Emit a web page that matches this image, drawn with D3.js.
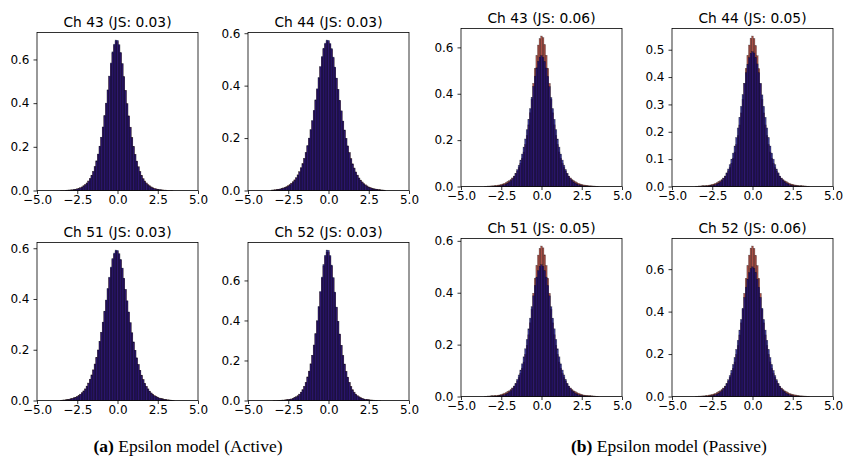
<!DOCTYPE html>
<html>
<head>
<meta charset="utf-8">
<script src="https://cdn.jsdelivr.net/npm/d3@7"></script>
<style>
  body { margin: 0; background: #fff; }
  svg { display: block; font-family: "DejaVu Sans", sans-serif; }
</style>
</head>
<body>
<svg id="chart" width="843" height="468"></svg>
<script>
// bin centres of the histograms (bin width 0.1)
var binCenters = d3.range(-35, 36).map(i => i / 10)
var xTicks = [-5, -2.5, 0, 2.5, 5]

var titles = ["Ch 43 (JS: 0.03)", "Ch 44 (JS: 0.03)", "Ch 51 (JS: 0.03)", "Ch 52 (JS: 0.03)",
              "Ch 43 (JS: 0.06)", "Ch 44 (JS: 0.05)", "Ch 51 (JS: 0.05)", "Ch 52 (JS: 0.06)"]
var yTicks = [[0, 0.2, 0.4, 0.6], [0, 0.2, 0.4, 0.6], [0, 0.2, 0.4, 0.6], [0, 0.2, 0.4, 0.6],
              [0, 0.2, 0.4, 0.6], [0, 0.1, 0.2, 0.3, 0.4, 0.5], [0, 0.2, 0.4, 0.6], [0, 0.2, 0.4, 0.6]]
var captions = [["(a)", " Epsilon model (Active)"], ["(b)", " Epsilon model (Passive)"]]

// (a) Active
var redA43 = [
0.001, 0.001, 0.001, 0.001, 0.002, 0.002, 0.003, 0.003, 0.004, 0.006,
0.008, 0.010, 0.013, 0.017, 0.022, 0.028, 0.035, 0.044, 0.055, 0.070,
0.087, 0.109, 0.135, 0.166, 0.202, 0.243, 0.290, 0.342, 0.398, 0.459,
0.521, 0.580, 0.630, 0.664, 0.682, 0.682, 0.664, 0.630, 0.580, 0.521,
0.459, 0.398, 0.342, 0.290, 0.243, 0.202, 0.166, 0.135, 0.109, 0.087,
0.070, 0.055, 0.044, 0.035, 0.028, 0.022, 0.017, 0.013, 0.010, 0.008,
0.006, 0.004, 0.003, 0.003, 0.002, 0.002, 0.001, 0.001, 0.001, 0.001,
0]
var blueA43 = [
0, 0, 0, 0.001, 0.001, 0.002, 0.002, 0.003, 0.004, 0.005,
0.007, 0.009, 0.012, 0.015, 0.020, 0.026, 0.033, 0.042, 0.054, 0.069,
0.087, 0.110, 0.136, 0.167, 0.203, 0.244, 0.291, 0.343, 0.400, 0.461,
0.524, 0.584, 0.635, 0.670, 0.689, 0.688, 0.668, 0.632, 0.581, 0.521,
0.458, 0.397, 0.341, 0.289, 0.242, 0.201, 0.165, 0.134, 0.108, 0.086,
0.068, 0.053, 0.041, 0.032, 0.025, 0.019, 0.015, 0.011, 0.008, 0.006,
0.005, 0.004, 0.003, 0.002, 0.001, 0.001, 0.001, 0, 0, 0,
0]
var redA44 = [
0.002, 0.002, 0.003, 0.004, 0.005, 0.006, 0.008, 0.010, 0.012, 0.015,
0.019, 0.023, 0.028, 0.034, 0.041, 0.049, 0.060, 0.072, 0.087, 0.103,
0.122, 0.145, 0.170, 0.199, 0.231, 0.265, 0.304, 0.344, 0.386, 0.429,
0.471, 0.508, 0.540, 0.558, 0.568, 0.568, 0.558, 0.538, 0.506, 0.469,
0.428, 0.385, 0.343, 0.303, 0.264, 0.230, 0.198, 0.170, 0.145, 0.122,
0.102, 0.086, 0.071, 0.059, 0.048, 0.040, 0.033, 0.027, 0.022, 0.018,
0.014, 0.012, 0.009, 0.007, 0.006, 0.005, 0.004, 0.003, 0.002, 0.002,
0.001]
var blueA44 = [
0.001, 0.002, 0.002, 0.003, 0.004, 0.005, 0.007, 0.009, 0.011, 0.013,
0.017, 0.021, 0.026, 0.032, 0.039, 0.048, 0.059, 0.071, 0.086, 0.102,
0.122, 0.145, 0.171, 0.200, 0.232, 0.267, 0.306, 0.346, 0.388, 0.431,
0.473, 0.511, 0.543, 0.562, 0.574, 0.573, 0.561, 0.541, 0.509, 0.471,
0.429, 0.386, 0.344, 0.304, 0.265, 0.231, 0.199, 0.170, 0.144, 0.121,
0.101, 0.085, 0.070, 0.058, 0.047, 0.038, 0.031, 0.025, 0.020, 0.016,
0.012, 0.010, 0.008, 0.006, 0.005, 0.004, 0.003, 0.002, 0.002, 0.001,
0.001]
var redA51 = [
0.001, 0.002, 0.002, 0.003, 0.004, 0.005, 0.007, 0.009, 0.011, 0.013,
0.016, 0.020, 0.025, 0.031, 0.038, 0.046, 0.057, 0.069, 0.084, 0.101,
0.121, 0.144, 0.170, 0.199, 0.232, 0.268, 0.308, 0.350, 0.394, 0.439,
0.483, 0.522, 0.555, 0.576, 0.588, 0.588, 0.576, 0.554, 0.520, 0.481,
0.437, 0.392, 0.348, 0.306, 0.266, 0.230, 0.198, 0.168, 0.142, 0.119,
0.100, 0.083, 0.068, 0.056, 0.046, 0.037, 0.030, 0.025, 0.020, 0.016,
0.013, 0.010, 0.008, 0.007, 0.005, 0.004, 0.003, 0.002, 0.002, 0.001,
0.001]
var blueA51 = [
0.001, 0.001, 0.002, 0.002, 0.003, 0.004, 0.006, 0.008, 0.010, 0.012,
0.015, 0.019, 0.024, 0.030, 0.037, 0.045, 0.056, 0.068, 0.083, 0.100,
0.120, 0.143, 0.169, 0.199, 0.233, 0.269, 0.309, 0.352, 0.396, 0.442,
0.486, 0.526, 0.559, 0.581, 0.593, 0.592, 0.579, 0.556, 0.522, 0.482,
0.438, 0.393, 0.349, 0.307, 0.267, 0.231, 0.198, 0.168, 0.142, 0.119,
0.099, 0.082, 0.067, 0.055, 0.045, 0.036, 0.029, 0.023, 0.018, 0.015,
0.012, 0.009, 0.007, 0.006, 0.004, 0.003, 0.002, 0.002, 0.001, 0.001,
0]
var redA52 = [
0, 0.001, 0.001, 0.001, 0.001, 0.001, 0.002, 0.002, 0.003, 0.004,
0.005, 0.006, 0.008, 0.011, 0.015, 0.019, 0.024, 0.032, 0.042, 0.054,
0.071, 0.091, 0.118, 0.147, 0.183, 0.226, 0.277, 0.333, 0.397, 0.467,
0.541, 0.612, 0.673, 0.719, 0.742, 0.742, 0.719, 0.672, 0.611, 0.539,
0.465, 0.395, 0.332, 0.276, 0.225, 0.182, 0.146, 0.117, 0.091, 0.071,
0.054, 0.042, 0.032, 0.024, 0.019, 0.015, 0.011, 0.008, 0.006, 0.005,
0.004, 0.003, 0.002, 0.002, 0.001, 0.001, 0.001, 0.001, 0, 0,
0]
var blueA52 = [
0, 0, 0, 0, 0.001, 0.001, 0.001, 0.002, 0.002, 0.003,
0.004, 0.005, 0.007, 0.010, 0.014, 0.018, 0.023, 0.031, 0.041, 0.053,
0.070, 0.090, 0.117, 0.146, 0.183, 0.226, 0.277, 0.334, 0.399, 0.470,
0.545, 0.617, 0.679, 0.726, 0.752, 0.751, 0.725, 0.677, 0.615, 0.542,
0.467, 0.396, 0.332, 0.276, 0.225, 0.182, 0.145, 0.116, 0.090, 0.069,
0.052, 0.040, 0.030, 0.023, 0.017, 0.013, 0.010, 0.007, 0.005, 0.004,
0.003, 0.002, 0.002, 0.001, 0.001, 0.001, 0, 0, 0, 0,
0]

// (b) Passive
var redB43 = [
0.001, 0.001, 0.002, 0.002, 0.003, 0.003, 0.004, 0.005, 0.006, 0.007,
0.009, 0.011, 0.014, 0.017, 0.021, 0.025, 0.030, 0.037, 0.045, 0.055,
0.067, 0.082, 0.100, 0.122, 0.149, 0.181, 0.220, 0.266, 0.318, 0.375,
0.445, 0.510, 0.565, 0.610, 0.638, 0.649, 0.642, 0.612, 0.566, 0.510,
0.445, 0.375, 0.318, 0.266, 0.220, 0.181, 0.149, 0.122, 0.100, 0.082,
0.067, 0.055, 0.045, 0.037, 0.030, 0.025, 0.021, 0.017, 0.014, 0.011,
0.009, 0.007, 0.006, 0.005, 0.004, 0.003, 0.003, 0.002, 0.002, 0.001,
0.001]
var blueB43 = [
0, 0, 0, 0, 0, 0.001, 0.001, 0.002, 0.002, 0.003,
0.004, 0.006, 0.008, 0.011, 0.015, 0.020, 0.026, 0.034, 0.044, 0.057,
0.073, 0.092, 0.114, 0.140, 0.170, 0.205, 0.245, 0.290, 0.336, 0.385,
0.432, 0.476, 0.512, 0.540, 0.558, 0.565, 0.557, 0.539, 0.511, 0.475,
0.431, 0.384, 0.336, 0.290, 0.245, 0.205, 0.170, 0.140, 0.114, 0.092,
0.073, 0.057, 0.044, 0.034, 0.026, 0.020, 0.015, 0.011, 0.008, 0.006,
0.004, 0.003, 0.002, 0.002, 0.001, 0.001, 0, 0, 0, 0,
0]
var redB44 = [
0.001, 0.001, 0.002, 0.002, 0.003, 0.003, 0.003, 0.004, 0.005, 0.006,
0.008, 0.009, 0.012, 0.014, 0.018, 0.021, 0.025, 0.031, 0.038, 0.047,
0.057, 0.069, 0.085, 0.103, 0.126, 0.153, 0.186, 0.225, 0.269, 0.318,
0.377, 0.432, 0.479, 0.517, 0.542, 0.550, 0.541, 0.515, 0.478, 0.431,
0.376, 0.318, 0.269, 0.225, 0.186, 0.153, 0.126, 0.103, 0.085, 0.069,
0.057, 0.047, 0.038, 0.031, 0.025, 0.021, 0.018, 0.014, 0.012, 0.009,
0.008, 0.006, 0.005, 0.004, 0.003, 0.003, 0.003, 0.002, 0.002, 0.001,
0.001]
var blueB44 = [
0, 0, 0, 0, 0, 0.001, 0.001, 0.002, 0.002, 0.003,
0.003, 0.005, 0.007, 0.010, 0.013, 0.017, 0.023, 0.030, 0.038, 0.050,
0.064, 0.080, 0.100, 0.122, 0.148, 0.179, 0.214, 0.253, 0.293, 0.336,
0.377, 0.416, 0.447, 0.471, 0.487, 0.493, 0.488, 0.472, 0.448, 0.416,
0.377, 0.335, 0.293, 0.253, 0.214, 0.179, 0.148, 0.122, 0.100, 0.080,
0.064, 0.050, 0.038, 0.030, 0.023, 0.017, 0.013, 0.010, 0.007, 0.005,
0.003, 0.003, 0.002, 0.002, 0.001, 0.001, 0, 0, 0, 0,
0]
var redB51 = [
0.001, 0.001, 0.002, 0.002, 0.003, 0.003, 0.004, 0.004, 0.005, 0.006,
0.008, 0.010, 0.013, 0.015, 0.019, 0.022, 0.027, 0.033, 0.040, 0.049,
0.060, 0.073, 0.089, 0.109, 0.133, 0.162, 0.197, 0.238, 0.284, 0.335,
0.398, 0.456, 0.505, 0.545, 0.571, 0.580, 0.573, 0.546, 0.505, 0.456,
0.398, 0.335, 0.284, 0.238, 0.197, 0.162, 0.133, 0.109, 0.089, 0.073,
0.060, 0.049, 0.040, 0.033, 0.027, 0.022, 0.019, 0.015, 0.013, 0.010,
0.008, 0.006, 0.005, 0.004, 0.004, 0.003, 0.003, 0.002, 0.002, 0.001,
0.001]
var blueB51 = [
0, 0, 0, 0, 0, 0.001, 0.001, 0.002, 0.002, 0.003,
0.004, 0.005, 0.007, 0.010, 0.013, 0.018, 0.023, 0.031, 0.040, 0.051,
0.066, 0.083, 0.102, 0.126, 0.153, 0.184, 0.220, 0.261, 0.302, 0.346,
0.388, 0.428, 0.460, 0.485, 0.502, 0.508, 0.502, 0.485, 0.460, 0.428,
0.388, 0.346, 0.302, 0.261, 0.220, 0.184, 0.153, 0.126, 0.102, 0.083,
0.066, 0.051, 0.040, 0.031, 0.023, 0.018, 0.013, 0.010, 0.007, 0.005,
0.004, 0.003, 0.002, 0.002, 0.001, 0.001, 0, 0, 0, 0,
0]
var redB52 = [
0.001, 0.001, 0.002, 0.002, 0.003, 0.003, 0.004, 0.005, 0.007, 0.008,
0.010, 0.012, 0.015, 0.019, 0.023, 0.027, 0.033, 0.040, 0.049, 0.060,
0.073, 0.090, 0.109, 0.133, 0.163, 0.198, 0.240, 0.290, 0.347, 0.410,
0.486, 0.557, 0.617, 0.666, 0.699, 0.709, 0.698, 0.665, 0.617, 0.557,
0.486, 0.410, 0.347, 0.290, 0.240, 0.198, 0.163, 0.133, 0.109, 0.090,
0.073, 0.060, 0.049, 0.040, 0.033, 0.027, 0.023, 0.019, 0.015, 0.012,
0.010, 0.008, 0.007, 0.005, 0.004, 0.003, 0.003, 0.002, 0.002, 0.001,
0.001]
var blueB52 = [
0, 0, 0, 0, 0, 0.001, 0.001, 0.002, 0.002, 0.003,
0.004, 0.006, 0.009, 0.012, 0.016, 0.022, 0.028, 0.037, 0.048, 0.062,
0.079, 0.099, 0.123, 0.151, 0.184, 0.222, 0.265, 0.313, 0.363, 0.416,
0.467, 0.515, 0.553, 0.584, 0.603, 0.611, 0.604, 0.585, 0.553, 0.515,
0.467, 0.416, 0.363, 0.313, 0.265, 0.222, 0.184, 0.151, 0.123, 0.099,
0.079, 0.062, 0.048, 0.037, 0.028, 0.022, 0.016, 0.012, 0.009, 0.006,
0.004, 0.003, 0.002, 0.002, 0.001, 0.001, 0, 0, 0, 0,
0]

var reds = [redA43, redA44, redA51, redA52, redB43, redB44, redB51, redB52]
var blues = [blueA43, blueA44, blueA51, blueA52, blueB43, blueB44, blueB51, blueB52]

// plot area positions (left, top) of each subplot
var boxes = [[37, 32.5], [248, 32.5], [37, 242.5], [248, 242.5],
             [461, 28.5], [672, 28.5], [461, 238.5], [672, 238.5]]
var plotW = 161, plotH = 158

var svg = d3.select("#chart")

boxes.forEach(function(b, k) {
    var left = b[0], top = b[1]
    var ymax = 1.05 * d3.max(reds[k].concat(blues[k]))

    var xScale = d3.scaleLinear().domain([-5, 5]).range([left, left + plotW])
    var yScale = d3.scaleLinear().domain([0, ymax]).range([top + plotH, top])

    var g = svg.append("g")

    //red first, blue drawn over it
    var series = [
        {vals: reds[k], fill: "rgb(140,22,10)", op: 0.75},
        {vals: blues[k], fill: "rgb(15,10,120)", op: 0.8}
    ]
    series.forEach(function(s) {
        g.append("g").selectAll("rect")
            .data(binCenters.map((c, i) => ({c: c, v: s.vals[i]})).filter(d => d.v > 0))
            .enter()
            .append("rect")
            .attr("x", d => xScale(d.c - 0.05))
            .attr("width", d => xScale(d.c + 0.05) - xScale(d.c - 0.05))
            .attr("y", d => yScale(d.v))
            .attr("height", d => yScale(0) - yScale(d.v))
            .attr("fill", s.fill)
            .attr("fill-opacity", s.op)
            .attr("stroke", "#000")
            .attr("stroke-opacity", 0.45)
            .attr("stroke-width", 0.5)
    })

    var xAxis = g.append("g")
        .attr("transform", `translate(0,${top + plotH})`)
        .call(d3.axisBottom(xScale).tickValues(xTicks).tickFormat(d3.format(".1f")).tickSize(3.5).tickPadding(1.5))
    var yAxis = g.append("g")
        .attr("transform", `translate(${left},0)`)
        .call(d3.axisLeft(yScale).tickValues(yTicks[k]).tickFormat(d3.format(".1f")).tickSize(3.5).tickPadding(4))

    ;[xAxis, yAxis].forEach(function(a) {
        a.select(".domain").remove()
        a.selectAll("line").attr("stroke", "#000").attr("stroke-width", 0.8)
        a.selectAll("text").attr("fill", "#000").style("font-size", "12px").style("font-family", "DejaVu Sans")
    })

    g.append("rect")
        .attr("x", left).attr("y", top)
        .attr("width", plotW).attr("height", plotH)
        .attr("fill", "none").attr("stroke", "#000").attr("stroke-width", 0.8)

    g.append("text")
        .attr("x", left + plotW / 2)
        .attr("y", top - 6)
        .attr("text-anchor", "middle")
        .style("font-size", "13.8px")
        .text(titles[k])
})

// sub-figure captions
var capX = [188, 669]
captions.forEach(function(c, i) {
    var t = svg.append("text")
        .attr("x", capX[i]).attr("y", 452)
        .attr("text-anchor", "middle")
        .style("font-family", "'Liberation Serif', 'Times New Roman', serif")
        .style("font-size", "17.5px")
    t.append("tspan").attr("font-weight", "bold").text(c[0])
    t.append("tspan").text(c[1])
})
</script>
</body>
</html>
